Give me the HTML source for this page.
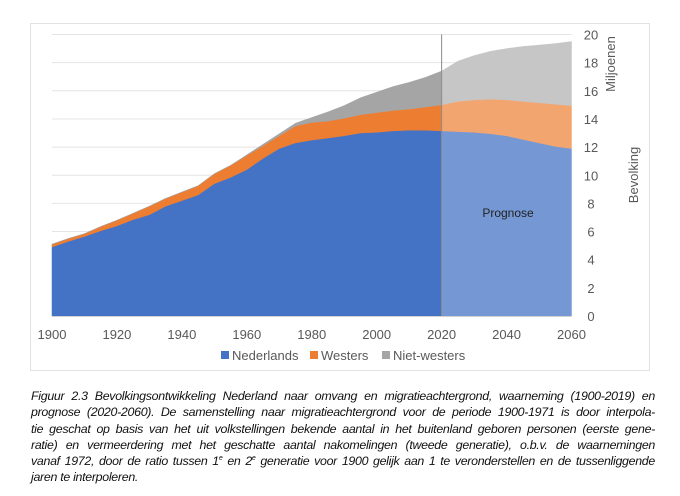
<!DOCTYPE html>
<html><head><meta charset="utf-8">
<style>
body{margin:0;width:680px;height:496px;background:#fff;overflow:hidden;font-family:"Liberation Sans",sans-serif;}
#frame{position:absolute;left:30px;top:23px;width:620px;height:348px;border:1px solid #e2e2e2;box-sizing:border-box;}
svg{position:absolute;left:0;top:0;}
#cap{position:absolute;left:31px;top:388px;width:624px;font-style:italic;font-size:12.4px;line-height:16.3px;color:#111;letter-spacing:-0.3px;}
#cap div{text-align:justify;text-align-last:justify;white-space:nowrap;height:16.3px;}
#cap div.last{text-align-last:left;}
#cap sup{font-size:7px;line-height:0;vertical-align:5px;}
</style></head><body>
<div id="frame"></div>
<svg id="chart" width="680" height="496"></svg>
<div id="cap">
<div>Figuur 2.3 Bevolkingsontwikkeling Nederland naar omvang en migratieachtergrond, waarneming (1900-2019) en</div>
<div>prognose (2020-2060). De samenstelling naar migratieachtergrond voor de periode 1900-1971 is door interpola-</div>
<div>tie geschat op basis van het uit volkstellingen bekende aantal in het buitenland geboren personen (eerste gene-</div>
<div>ratie) en vermeerdering met het geschatte aantal nakomelingen (tweede generatie), o.b.v. de waarnemingen</div>
<div>vanaf 1972, door de ratio tussen 1<sup>e</sup> en 2<sup>e</sup> generatie voor 1900 gelijk aan 1 te veronderstellen en de tussenliggende</div>
<div class="last">jaren te interpoleren.</div>
</div>
<script>
const years=[1900,1905,1910,1915,1920,1925,1930,1935,1940,1945,1950,1955,1960,1965,1970,1975,1980,1985,1990,1995,2000,2005,2010,2015,2020,2025,2030,2035,2040,2045,2050,2055,2060];
const nederlands=[4.9,5.3,5.65,6.05,6.4,6.85,7.2,7.8,8.2,8.6,9.4,9.85,10.4,11.2,11.9,12.3,12.5,12.65,12.8,13.0,13.05,13.15,13.2,13.2,13.15,13.1,13.05,12.95,12.8,12.55,12.3,12.05,11.9];
const westers=[0.2,0.2,0.2,0.3,0.4,0.45,0.6,0.55,0.6,0.65,0.7,0.85,1.0,0.9,0.9,1.2,1.25,1.2,1.25,1.3,1.4,1.45,1.5,1.65,1.85,2.15,2.3,2.45,2.55,2.7,2.85,3.0,3.05];
const nietWesters=[0,0,0,0,0,0,0,0,0,0,0,0,0.05,0.1,0.15,0.2,0.35,0.65,0.9,1.2,1.45,1.7,1.9,2.1,2.4,2.85,3.15,3.4,3.65,3.9,4.1,4.3,4.55];
const yTicks=[0,2,4,6,8,10,12,14,16,18,20];
const xTicks=[1900,1920,1940,1960,1980,2000,2020,2040,2060];
const splitYear=2020;
const NS="http://www.w3.org/2000/svg";
const svg=document.getElementById('chart');
const x=v=>52+(v-1900)*(571.5-52)/160;
const y=v=>316-v*(316-34.5)/20;
function mk(t,a,p){const e=document.createElementNS(NS,t);for(const k in a)e.setAttribute(k,a[k]);(p||svg).appendChild(e);return e;}
yTicks.forEach(t=>{
 const g=mk('line',{x1:52,x2:571.5,y1:y(t),y2:y(t),stroke:'#e4e4e4','stroke-width':1});
 
 
 const l=mk('text',{x:591,y:y(t)+5,'text-anchor':'middle','font-size':13,fill:'#595959'});
 l.textContent=t;
 
 
});
const lo=nederlands.map(()=>0);
const l1=nederlands.slice();
const l2=nederlands.map((v,i)=>v+westers[i]);
const l3=l2.map((v,i)=>v+nietWesters[i]);
function area(bot,top,i0,i1,color,name){
 let d='';
 for(let i=i0;i<=i1;i++)d+=(i===i0?'M':'L')+x(years[i]).toFixed(1)+','+y(top[i]).toFixed(1);
 for(let i=i1;i>=i0;i--)d+='L'+x(years[i]).toFixed(1)+','+y(bot[i]).toFixed(1);
 const p=mk('path',{d:d+'Z',fill:color,stroke:color,'stroke-width':0.5});
 
 
}
const si=years.indexOf(splitYear), n=years.length-1;
area(lo,l1,0,si,'#4472c4','area-nederlands');
area(l1,l2,0,si,'#ed7d31','area-westers');
area(l2,l3,0,si,'#a5a5a5','area-niet-westers');
area(lo,l1,si,n,'#7598d5','area-nederlands-prognose');
area(l1,l2,si,n,'#f3a56f','area-westers-prognose');
area(l2,l3,si,n,'#c6c6c6','area-niet-westers-prognose');
const vl=mk('line',{x1:x(splitYear),x2:x(splitYear),y1:y(20),y2:y(0),stroke:'#8c8c8c','stroke-width':1});


const ax=mk('line',{x1:52,x2:571.5,y1:316.5,y2:316.5,stroke:'#d0d0d0'});


xTicks.forEach(t=>{
 const l=mk('text',{x:x(t),y:339,'text-anchor':'middle','font-size':13,fill:'#595959'});
 l.textContent=t;
 
 
});
const pr=mk('text',{x:508,y:217,'text-anchor':'middle','font-size':12,fill:'#222'});
pr.textContent='Prognose';


const m=mk('text',{x:0,y:0,'text-anchor':'middle','font-size':13,fill:'#595959',transform:'translate(615,64) rotate(-90)'});
m.textContent='Miljoenen';


const b=mk('text',{x:0,y:0,'text-anchor':'middle','font-size':13,fill:'#595959',transform:'translate(638,175) rotate(-90)'});
b.textContent='Bevolking';


const legend=[['Nederlands','#4472c4',221],['Westers','#ed7d31',310],['Niet-westers','#a5a5a5',382]];
legend.forEach(([t,c,lx])=>{
 const g=mk('g',{});
 
 
 mk('rect',{x:lx,y:351,width:8,height:8,fill:c},g);
 const tx=mk('text',{x:lx+11,y:360,'font-size':13,fill:'#595959'},g);
 tx.textContent=t;
});
</script>
</body></html>
